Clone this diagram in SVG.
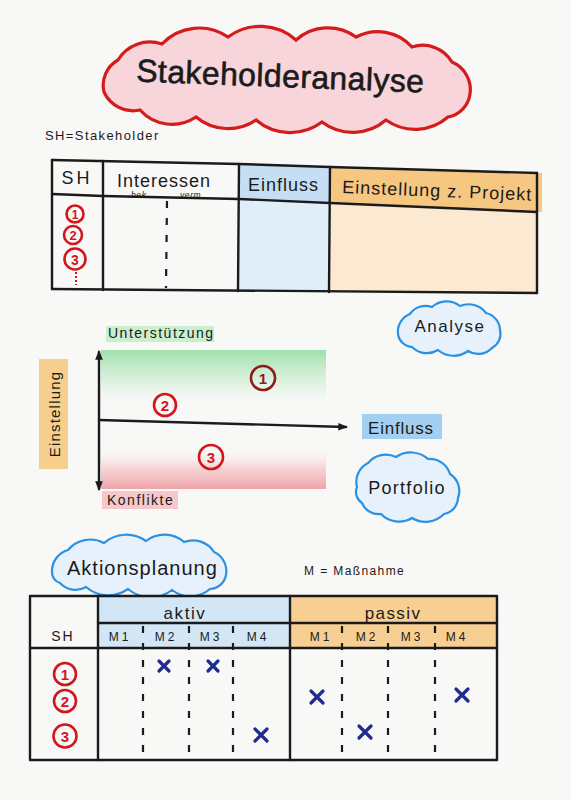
<svg xmlns="http://www.w3.org/2000/svg" width="571" height="800" viewBox="0 0 571 800">
<defs>
<style>
.t{font-family:"Liberation Sans",Arial,sans-serif;fill:#1b1b1b}
.ln{stroke:#1b1b1b;stroke-width:2.4;fill:none;stroke-linecap:round;stroke-linejoin:round}
.dash{stroke:#1b1b1b;stroke-width:2.2;fill:none;stroke-dasharray:7 10}
.rc{fill:none;stroke:#d2161b;stroke-width:2.6}
.rn{font-family:"Liberation Sans",Arial,sans-serif;font-weight:bold;fill:#d2161b;text-anchor:middle}
.bc{fill:#e6f1fb;stroke:#2b91e3;stroke-width:2.2}
.x{stroke:#1f2b8e;stroke-width:3.2;stroke-linecap:round}
</style>
<marker id="ah" viewBox="0 0 10 10" refX="8" refY="5" markerWidth="4" markerHeight="4" orient="auto-start-reverse"><path d="M0,1 L10,5 L0,9 Z" fill="#1b1b1b"/></marker>
<linearGradient id="gg" x1="0" y1="0" x2="0" y2="1">
<stop offset="0" stop-color="#8fdb9c" stop-opacity="0.85"/>
<stop offset="0.55" stop-color="#bfeac5" stop-opacity="0.55"/>
<stop offset="1" stop-color="#d9f3dc" stop-opacity="0"/>
</linearGradient>
<linearGradient id="rg" x1="0" y1="0" x2="0" y2="1">
<stop offset="0" stop-color="#f8d4d6" stop-opacity="0"/>
<stop offset="0.5" stop-color="#f3aeb3" stop-opacity="0.55"/>
<stop offset="1" stop-color="#ee959c" stop-opacity="0.85"/>
</linearGradient>
</defs>
<rect x="0" y="0" width="571" height="800" fill="#f8f8f7"/>

<g id="title">
<path d="M104,92 A29,29 0 0 1 118,60 A37,37 0 0 1 162,44 A51,51 0 0 1 228,37 A54,54 0 0 1 296,40 A48,48 0 0 1 356,37 A46,46 0 0 1 412,47 A34,34 0 0 1 452,62 A30,30 0 0 1 470,94 A27,27 0 0 1 448,117 A50,50 0 0 1 386,120 A51,51 0 0 1 322,122 A53,53 0 0 1 256,120 A50,50 0 0 1 196,117 A43,43 0 0 1 140,110 A32,32 0 0 1 104,92 Z" fill="#f7d5da" stroke="#d41c1c" stroke-width="3.2"/>
<text class="t" x="280" y="87" font-size="32" letter-spacing="0.4" text-anchor="middle" stroke="#1b1b1b" stroke-width="0.6" transform="rotate(2.2 280 85)">Stakeholderanalyse</text>
</g>

<g id="legend-sh">
<text class="t" x="45" y="140" font-size="13" letter-spacing="1.4">SH=Stakeholder</text>
</g>

<g id="table-stakeholder">
<polygon points="239,164 330,167 330,203 239,199" fill="#c6def3"/>
<polygon points="239,199 330,203 330,292 239,291" fill="#e0eef9"/>
<polygon points="330,167 542,173 542,212 330,203" fill="#f6c781"/>
<polygon points="330,203 537,212 537,293 330,292" fill="#fbe9d2"/>
<polyline class="ln" points="52,160 239,164 330,167 537,173"/>
<polyline class="ln" points="52,194 103,196 239,199 330,203 537,212"/>
<polyline class="ln" points="52,289 537,293"/>
<line class="ln" x1="52" y1="160" x2="52" y2="289"/>
<line class="ln" x1="103" y1="161" x2="103" y2="290"/>
<line class="ln" x1="239" y1="164" x2="238" y2="291"/>
<line class="ln" x1="330" y1="167" x2="329" y2="292"/>
<line class="ln" x1="537" y1="173" x2="537" y2="293"/>
<line class="dash" x1="167" y1="201" x2="166" y2="288" stroke-dasharray="6 5"/>
<text class="t" x="77" y="184" font-size="18" letter-spacing="3" text-anchor="middle">SH</text>
<text class="t" x="117" y="187" font-size="18" letter-spacing="1">Interessen</text>
<text class="t" x="131" y="198" font-size="8.5" font-style="italic" letter-spacing="0.6">bek.</text>
<text class="t" x="180" y="198" font-size="8.5" font-style="italic" letter-spacing="0.6">verm.</text>
<text class="t" x="248" y="191" font-size="18" letter-spacing="1">Einfluss</text>
<text class="t" x="342" y="193" font-size="18" letter-spacing="1" transform="rotate(2.3 342 193)">Einstellung z. Projekt</text>
<circle class="rc" cx="75" cy="214" r="8.5"/>
<text class="rn" x="75" y="218.5" font-size="12">1</text>
<circle class="rc" cx="73" cy="235" r="9"/>
<text class="rn" x="73" y="240" font-size="13">2</text>
<circle class="rc" cx="75" cy="259" r="10.5"/>
<text class="rn" x="75" y="264.5" font-size="14">3</text>
<line x1="76" y1="272" x2="76" y2="285" stroke="#d2161b" stroke-width="2" stroke-dasharray="2 2"/>
</g>

<g id="cloud-analyse">
<path class="bc" d="M398,334 A19,19 0 0 1 410,314 A19,19 0 0 1 432,307 A22,22 0 0 1 460,306 A22,22 0 0 1 486,313 A18,18 0 0 1 500,330 A16,16 0 0 1 492,348 A19,19 0 0 1 468,351 A24,24 0 0 1 438,350 A21,21 0 0 1 412,347 A15,15 0 0 1 398,334 Z"/>
<text class="t" x="450" y="332" font-size="17" letter-spacing="1.5" text-anchor="middle">Analyse</text>
</g>

<g id="portfolio-chart">
<rect x="101" y="350" width="225" height="53" fill="url(#gg)"/>
<rect x="101" y="451" width="225" height="38" fill="url(#rg)"/>
<rect x="106" y="326" width="108" height="16" fill="#c9efcd"/>
<text class="t" x="108" y="338" font-size="14" letter-spacing="1.5">Unterstützung</text>
<rect x="102" y="491" width="76" height="18" fill="#f7c8cb"/>
<text class="t" x="107" y="505" font-size="14" letter-spacing="1.5">Konflikte</text>
<rect x="39" y="359" width="29" height="110" fill="#f7cf8c"/>
<text class="t" font-size="15" letter-spacing="1.2" text-anchor="middle" transform="translate(60,414) rotate(-90)">Einstellung</text>
<rect x="362" y="414" width="80" height="25" fill="#a3cff0"/>
<text class="t" x="368" y="434" font-size="17" letter-spacing="0.8">Einfluss</text>
<circle cx="263" cy="378" r="12" fill="none" stroke="#8e1b1b" stroke-width="2.6"/>
<text class="rn" x="263" y="383.5" font-size="15" style="fill:#8e1b1b">1</text>
<circle class="rc" cx="165" cy="405" r="11"/>
<text class="rn" x="165" y="410.5" font-size="15">2</text>
<circle class="rc" cx="211" cy="457" r="12"/>
<text class="rn" x="211" y="462.5" font-size="15">3</text>
</g>

<g id="connectors">
<line class="ln" x1="99" y1="352" x2="99" y2="489" marker-start="url(#ah)" marker-end="url(#ah)"/>
<line class="ln" x1="99" y1="420" x2="346" y2="427" marker-end="url(#ah)"/>
</g>

<g id="cloud-portfolio">
<path class="bc" d="M357,487 A21,21 0 0 1 368,463 A23,23 0 0 1 396,457 A26,26 0 0 1 428,459 A21,21 0 0 1 450,474 A20,20 0 0 1 458,498 A17,17 0 0 1 444,514 A26,26 0 0 1 412,518 A25,25 0 0 1 381,514 A18,18 0 0 1 362,503 A13,13 0 0 1 357,487 Z"/>
<text class="t" x="407" y="494" font-size="18" letter-spacing="1.3" text-anchor="middle">Portfolio</text>
</g>

<g id="cloud-aktionsplanung">
<path class="bc" d="M52,572 A22,22 0 0 1 68,550 A29,29 0 0 1 104,543 A34,34 0 0 1 146,541 A30,30 0 0 1 184,542 A25,25 0 0 1 214,552 A21,21 0 0 1 226,575 A17,17 0 0 1 210,589 A30,30 0 0 1 172,590 A35,35 0 0 1 128,589 A34,34 0 0 1 86,587 A21,21 0 0 1 60,583 A11,11 0 0 1 52,572 Z" fill="#f2f7fc"/>
<text class="t" x="67" y="575" font-size="20" letter-spacing="1">Aktionsplanung</text>
</g>

<g id="legend-m">
<text class="t" x="304" y="575" font-size="12" letter-spacing="1.4">M = Maßnahme</text>
</g>

<g id="table-aktionsplanung">
<rect x="98" y="597" width="192" height="51" fill="#d3e6f6"/>
<rect x="290" y="597" width="207" height="51" fill="#f7cf92"/>
<rect x="30" y="596" width="467" height="164" class="ln"/>
<line class="ln" x1="98" y1="623" x2="497" y2="623"/>
<line class="ln" x1="30" y1="648" x2="497" y2="648"/>
<line class="ln" x1="98" y1="596" x2="98" y2="760"/>
<line class="ln" x1="290" y1="596" x2="290" y2="760"/>
<line class="dash" x1="143" y1="626" x2="143" y2="760"/>
<line class="dash" x1="189" y1="626" x2="189" y2="760"/>
<line class="dash" x1="233" y1="626" x2="233" y2="760"/>
<line class="dash" x1="342" y1="626" x2="342" y2="760"/>
<line class="dash" x1="388" y1="626" x2="388" y2="760"/>
<line class="dash" x1="435" y1="626" x2="435" y2="760"/>
<text class="t" x="185" y="619" font-size="17" letter-spacing="1.6" text-anchor="middle">aktiv</text>
<text class="t" x="393" y="619" font-size="17" letter-spacing="1.4" text-anchor="middle">passiv</text>
<text class="t" x="63" y="641" font-size="14" letter-spacing="2" text-anchor="middle">SH</text>
<g font-size="12" letter-spacing="3" text-anchor="middle">
<text class="t" x="120" y="641">M1</text>
<text class="t" x="166" y="641">M2</text>
<text class="t" x="211" y="641">M3</text>
<text class="t" x="258" y="641">M4</text>
<text class="t" x="321" y="641">M1</text>
<text class="t" x="367" y="641">M2</text>
<text class="t" x="412" y="641">M3</text>
<text class="t" x="457" y="641">M4</text>
</g>
<circle class="rc" cx="65" cy="674" r="11"/>
<text class="rn" x="65" y="679.5" font-size="15">1</text>
<circle class="rc" cx="65" cy="701" r="11"/>
<text class="rn" x="65" y="706.5" font-size="15">2</text>
<circle class="rc" cx="65" cy="736" r="11.5"/>
<text class="rn" x="65" y="741.5" font-size="15">3</text>
<path class="x" d="M159,661 L169,671 M169,661 L159,671"/>
<path class="x" d="M208,661 L218,671 M218,661 L208,671"/>
<path class="x" d="M255,729 L267,741 M267,729 L255,741"/>
<path class="x" d="M311,691 L323,703 M323,691 L311,703"/>
<path class="x" d="M456,689 L468,701 M468,689 L456,701"/>
<path class="x" d="M359,726 L371,738 M371,726 L359,738"/>
</g>
</svg>
